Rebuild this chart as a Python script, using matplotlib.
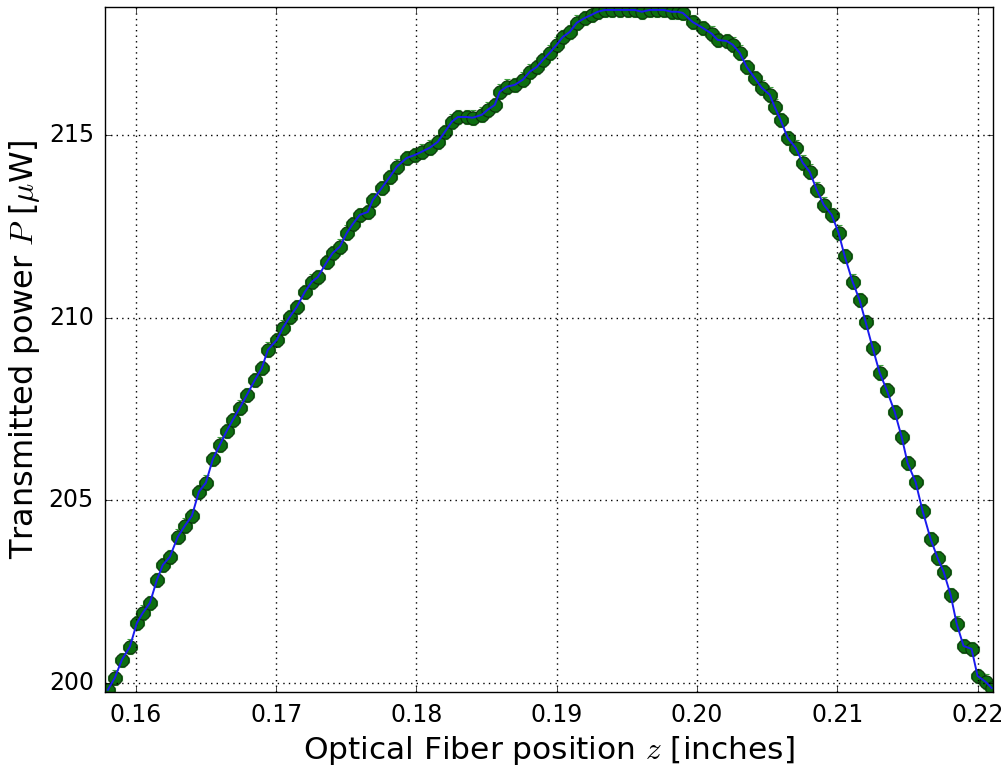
import matplotlib
matplotlib.use("Agg")
import matplotlib.pyplot as plt
import numpy as np

plt.style.use("classic")

position_in = [
    0.15800, 0.15850, 0.15900, 0.15957, 0.16007, 0.16050, 0.16100, 0.16150, 0.16192, 0.16242,
    0.16299, 0.16349, 0.16399, 0.16449, 0.16499, 0.16549, 0.16599, 0.16648, 0.16691, 0.16741,
    0.16791, 0.16848, 0.16898, 0.16941, 0.17005, 0.17048, 0.17097, 0.17147, 0.17204, 0.17254,
    0.17297, 0.17361, 0.17404, 0.17454, 0.17504, 0.17546, 0.17596, 0.17653, 0.17689, 0.17753,
    0.17810, 0.17860, 0.17931, 0.17988, 0.18038, 0.18095, 0.18152, 0.18202, 0.18252, 0.18295,
    0.18359, 0.18401, 0.18466, 0.18508, 0.18558, 0.18594, 0.18644, 0.18701, 0.18758, 0.18808,
    0.18858, 0.18900, 0.18950, 0.19000, 0.19043, 0.19093, 0.19143, 0.19200, 0.19250, 0.19292,
    0.19342, 0.19392, 0.19449, 0.19506, 0.19556, 0.19606, 0.19663, 0.19713, 0.19763, 0.19820,
    0.19862, 0.19898, 0.19969, 0.20040, 0.20105, 0.20147, 0.20211, 0.20254, 0.20304, 0.20354,
    0.20411, 0.20461, 0.20518, 0.20553, 0.20596, 0.20646, 0.20703, 0.20753, 0.20803, 0.20853,
    0.20903, 0.20960, 0.21009, 0.21052, 0.21109, 0.21159, 0.21202, 0.21252, 0.21302, 0.21352,
    0.21409, 0.21459, 0.21501, 0.21558, 0.21608, 0.21665, 0.21715, 0.21758, 0.21808, 0.21851,
    0.21900, 0.21957, 0.22000, 0.22057, 0.22100,
]

power_uW = [
    199.81, 200.14, 200.63, 200.99, 201.64, 201.92, 202.19, 202.82, 203.23, 203.45,
    204.00, 204.30, 204.57, 205.23, 205.48, 206.13, 206.52, 206.90, 207.20, 207.53,
    207.88, 208.29, 208.62, 209.12, 209.39, 209.72, 210.02, 210.29, 210.70, 210.98,
    211.11, 211.52, 211.77, 211.94, 212.32, 212.56, 212.81, 212.89, 213.22, 213.55,
    213.85, 214.13, 214.37, 214.45, 214.54, 214.65, 214.81, 215.08, 215.36, 215.49,
    215.49, 215.47, 215.55, 215.69, 215.82, 216.18, 216.32, 216.37, 216.51, 216.73,
    216.86, 217.05, 217.25, 217.47, 217.68, 217.82, 218.07, 218.20, 218.29, 218.37,
    218.42, 218.42, 218.42, 218.42, 218.42, 218.37, 218.42, 218.42, 218.42, 218.37,
    218.37, 218.34, 218.09, 217.93, 217.77, 217.60, 217.57, 217.47, 217.25, 216.86,
    216.56, 216.29, 216.10, 215.77, 215.41, 214.92, 214.65, 214.24, 213.99, 213.50,
    213.09, 212.81, 212.32, 211.69, 210.98, 210.48, 209.88, 209.17, 208.49, 208.02,
    207.42, 206.73, 206.02, 205.50, 204.71, 203.94, 203.42, 203.04, 202.41, 201.62,
    201.01, 200.93, 200.19, 200.03, 199.86,
]

position_err = 0.0005
power_err = 0.2

x_ticks = [0.16, 0.17, 0.18, 0.19, 0.20, 0.21, 0.22]
y_ticks = [200, 205, 210, 215]

fig = plt.figure(figsize=(10.07, 7.72), dpi=100, facecolor="white")
ax = fig.add_axes([0.1043, 0.1036, 0.9861 - 0.1043, 0.9909 - 0.1036])

ax.errorbar(position_in, power_uW, xerr=position_err, yerr=power_err,
            fmt="o", color="#0d6e10", ecolor="#3f9f3f", mfc="#0d6e10", mec="#0a300a",
            ms=9.5, mew=0.8, capsize=2.5, capthick=1.2, elinewidth=1.2, zorder=2)
ax.plot(position_in, power_uW, "-", color="#1a1aee", lw=1.4, zorder=3)

ax.set_xlim(0.1578, 0.2211)
ax.set_ylim(199.75, 218.5)
ax.set_xticks(x_ticks)
ax.set_xticklabels([f"{t:.2f}" for t in x_ticks])
ax.set_yticks(y_ticks)
ax.set_yticklabels([str(t) for t in y_ticks])
ax.tick_params(labelsize=17, pad=8)
ax.grid(True, color="black", linestyle=":", linewidth=1.0)
ax.set_xlabel(r"Optical Fiber position $z$ [inches]", fontsize=22.5)
ax.set_ylabel(r"Transmitted power $P$ [$\mu$W]", fontsize=23)

fig.savefig("out.png", dpi=100, facecolor="white")
